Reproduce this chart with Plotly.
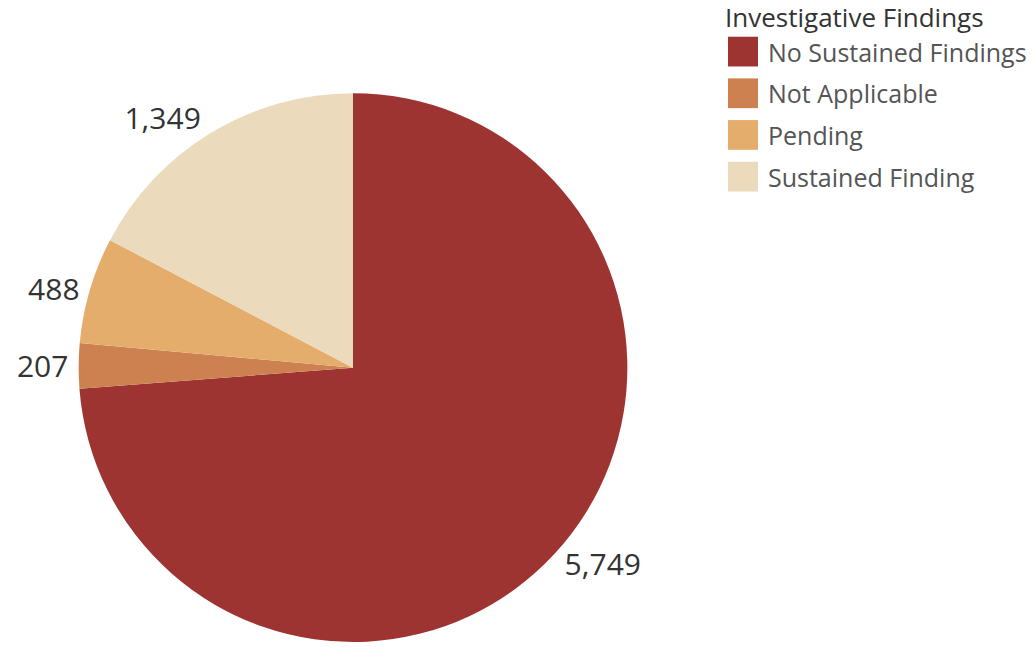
import plotly.graph_objects as go

categories = ["No Sustained Findings", "Not Applicable", "Pending", "Sustained Finding"]
counts = [5749, 207, 488, 1349]
colors = ["#9e3431", "#cd8150", "#e5ad6b", "#ecdabd"]
legend_title = "Investigative Findings"

W, H = 1036, 647
FONT = "Open Sans"

fig = go.Figure()
fig.add_trace(go.Pie(
    labels=categories,
    values=counts,
    sort=False,
    direction="clockwise",
    rotation=0,
    marker=dict(colors=colors, line=dict(width=0)),
    textinfo="value",
    texttemplate="%{value:,}",
    textposition="outside",
    textfont=dict(family=FONT, size=30, color="#333333"),
    domain=dict(x=[74 / W, 632 / W], y=[0, (H - 94) / H]),
    showlegend=False,
    hoverinfo="label+value+percent",
))

# custom legend (large swatches)
shapes = []
annotations = [dict(
    x=723 / W, y=1 - 17 / H, xref="paper", yref="paper",
    xanchor="left", yanchor="middle", showarrow=False,
    text=legend_title, font=dict(family=FONT, size=26, color="#333333"),
)]
for i, (cat, col) in enumerate(zip(categories, colors)):
    cy = 52 + i * 42
    shapes.append(dict(
        type="rect", xref="paper", yref="paper",
        x0=728 / W, x1=758 / W, y0=1 - (cy - 15) / H, y1=1 - (cy + 15) / H,
        fillcolor=col, line=dict(width=0),
    ))
    annotations.append(dict(
        x=766 / W, y=1 - cy / H, xref="paper", yref="paper",
        xanchor="left", yanchor="middle", showarrow=False,
        text=cat, font=dict(family=FONT, size=25, color="#555555"),
    ))

fig.update_layout(
    width=W, height=H,
    margin=dict(l=0, r=0, t=0, b=0),
    paper_bgcolor="white", plot_bgcolor="white",
    shapes=shapes, annotations=annotations,
)

fig.write_html("out.html", config={"displayModeBar": False},
               post_script="document.body.style.margin='0';")
